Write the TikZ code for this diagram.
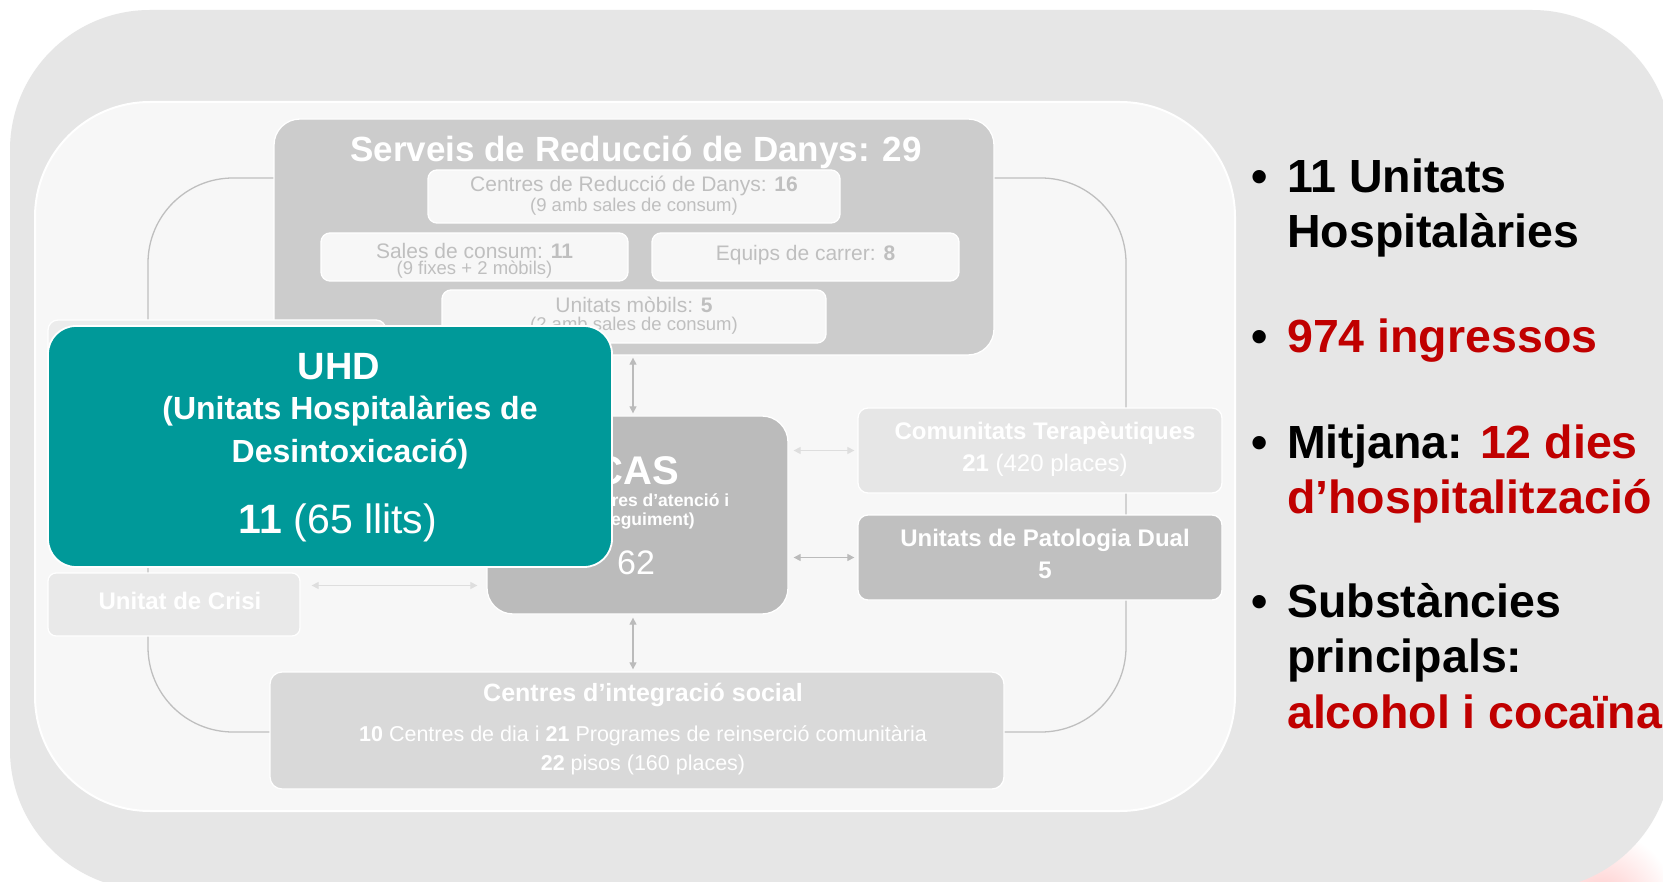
\documentclass[tikz,border=0pt]{standalone}
\usepackage{fontspec}
\setmainfont{Liberation Sans}
\usetikzlibrary{arrows.meta,calc}
\definecolor{outerbg}{HTML}{E6E6E6}
\definecolor{innerbg}{HTML}{F7F7F7}
\definecolor{srdfill}{HTML}{CCCCCC}
\definecolor{smallfill}{HTML}{F7F7F7}
\definecolor{smalltext}{HTML}{BFBFBF}
\definecolor{uhdfill}{HTML}{009999}
\definecolor{casfill}{HTML}{BBBBBB}
\definecolor{ctfill}{HTML}{E6E6E6}
\definecolor{updfill}{HTML}{C0C0C0}
\definecolor{crisifill}{HTML}{E9E9E9}
\definecolor{cisfill}{HTML}{D9D9D9}
\definecolor{hiddenfill}{HTML}{ECECEC}
\definecolor{loopcol}{HTML}{BFBFBF}
\definecolor{arrdark}{HTML}{BBBBBB}
\definecolor{arrlight}{HTML}{DEDEDE}
\definecolor{redtxt}{HTML}{C00000}
\newcommand{\fs}[1]{\fontsize{#1}{#1}\selectfont}
\begin{document}
\begin{tikzpicture}[x=1pt,y=-1pt,
  box/.style={draw=white, line width=1.3pt, inner sep=0pt},
  bigbox/.style={box, rounded corners=26pt},
  smallbox/.style={box, rounded corners=9pt, fill=smallfill},
  lbl/.style={inner sep=0pt, text=white},
  slbl/.style={inner sep=0pt, text=smalltext},
  arr/.style={line width=1.2pt, {Triangle[length=7pt,width=7pt]}-{Triangle[length=7pt,width=7pt]}},
  bul/.style={inner sep=0pt, anchor=base west, font=\fs{46.5}\bfseries}
]
\useasboundingbox (0,0) rectangle (1663,882);
\fill[white] (0,0) rectangle (1663,882);
\shade[inner color=red!22, outer color=white] (1600,905) circle (75);
% outer and inner panels
\fill[outerbg, rounded corners=140pt] (10,10) rectangle (1672,890);
\filldraw[fill=innerbg, draw=white, line width=2pt, rounded corners=115pt] (35,102) rectangle (1235,811);
% loop line
\draw[loopcol, line width=1.3pt, rounded corners=85pt] (148,178) rectangle (1126,732);

% Serveis de Reduccio de Danys
\node[bigbox, fill=srdfill, minimum width=720pt, minimum height=236pt] (srd) at (634,237) {};
\node[lbl, font=\fs{35}\bfseries] (srdt) at (636,152) {Serveis de Reducció de Danys: 29};
\node[smallbox, minimum width=412pt, minimum height=53pt] (crd) at (634,196.5) {};
\node[slbl, font=\fs{21}] (crd1) at (634,185.5) {Centres de Reducció de Danys: \textbf{16}};
\node[slbl, font=\fs{18.5}] (crd2) at (634,206.5) {(9 amb sales de consum)};
\node[smallbox, minimum width=307pt, minimum height=48pt] (sal) at (474.5,257) {};
\node[slbl, font=\fs{21}] (sal1) at (474.5,251) {Sales de consum: \textbf{11}};
\node[slbl, font=\fs{18.5}] (sal2) at (474.5,269.5) {(9 fixes + 2 mòbils)};
\node[smallbox, minimum width=307pt, minimum height=48pt] (eqc) at (805.5,257) {};
\node[slbl, font=\fs{21}] (eqc1) at (805.5,255.5) {Equips de carrer: \textbf{8}};
\node[smallbox, minimum width=384pt, minimum height=53pt] (mob) at (634,316.5) {};
\node[slbl, font=\fs{21}] (mob1) at (634,305) {Unitats mòbils: \textbf{5}};
\node[slbl, font=\fs{18.5}] (mob2) at (634,325.5) {(2 amb sales de consum)};

% CAS
\node[bigbox, fill=casfill, minimum width=301pt, minimum height=198pt] (cas) at (637.5,515) {};
\node[lbl, font=\fs{40}\bfseries] (cast) at (637,471) {CAS};
\node[lbl, font=\fs{17.5}\bfseries] (cas1) at (648,502) {(Centres d’atenció i};
\node[lbl, font=\fs{17.5}\bfseries] (cas2) at (648,521.5) {seguiment)};
\node[lbl, font=\fs{34}] (cas3) at (636,563) {62};

% right boxes
\node[box, rounded corners=10pt, fill=ctfill, minimum width=364pt, minimum height=85pt] (ct) at (1040,450.5) {};
\node[lbl, font=\fs{24}\bfseries] (ct1) at (1045,433.5) {Comunitats Terapèutiques};
\node[lbl, font=\fs{24}] (ct2) at (1045,465) {\textbf{21} (420 places)};
\node[box, rounded corners=10pt, fill=updfill, minimum width=364pt, minimum height=85pt] (upd) at (1040,557.5) {};
\node[lbl, font=\fs{24}\bfseries] (upd1) at (1045,540) {Unitats de Patologia Dual};
\node[lbl, font=\fs{24}\bfseries] (upd2) at (1045,570.5) {5};

% Unitat de Crisi
\node[box, rounded corners=8pt, fill=crisifill, minimum width=252pt, minimum height=63pt] (crisi) at (174,604.5) {};
\node[lbl, font=\fs{24}\bfseries] (crisit) at (180,601) {Unitat de Crisi};

% Centres d'integracio social
\node[box, rounded corners=12pt, fill=cisfill, minimum width=734pt, minimum height=117pt] (cis) at (637,730.5) {};
\node[lbl, font=\fs{25}\bfseries] (cis1) at (643,695) {Centres d’integració social};
\node[lbl, font=\fs{21.5}] (cis2) at (643,736) {\textbf{10} Centres de dia i \textbf{21} Programes de reinserció comunitària};
\node[lbl, font=\fs{21.5}] (cis3) at (643,764.5) {\textbf{22} pisos (160 places)};

% connectors
\coordinate (vx) at (633,0);
\coordinate (hy) at (0,585.5);
\draw[arr, draw=arrdark, fill=arrdark, shorten <=2pt, shorten >=2pt] (srd.south -| vx) -- (cas.north -| vx);
\draw[arr, draw=arrdark, fill=arrdark, shorten <=3pt, shorten >=2pt] (cas.south -| vx) -- (cis.north -| vx);
\draw[arr, draw=arrlight, fill=arrlight, shorten <=11pt, shorten >=9pt] (crisi.east |- hy) -- (cas.west |- hy);
\draw[arr, draw=arrlight, fill=arrlight, shorten <=5pt, shorten >=3pt] (cas.east |- ct.west) -- (ct.west);
\draw[arr, draw=arrdark, fill=arrdark, shorten <=5pt, shorten >=3pt] (cas.east |- upd.west) -- (upd.west);

% hidden box and UHD
\node[box, rounded corners=10pt, fill=hiddenfill, minimum width=338pt, minimum height=100pt] (hid) at (217,370) {};
\node[box, rounded corners=28pt, fill=uhdfill, line width=1.8pt, minimum width=564pt, minimum height=241pt] (uhd) at (330,446.5) {};
\node[lbl, font=\fs{38}\bfseries] (uhd1) at (339,367) {UHD};
\node[lbl, font=\fs{32}\bfseries] (uhd2) at (350,411.5) {(Unitats Hospitalàries de};
\node[lbl, font=\fs{32}\bfseries] (uhd3) at (350,454) {Desintoxicació)};
\node[lbl, font=\fs{41}] (uhd4) at (338,522.5) {\textbf{11} (65 llits)};

% right bullets
\node[bul] (b1) at (1251,193) {•};
\node[bul] (t1a) at (1287,193) {11 Unitats};
\node[bul] (t1b) at (1287,248) {Hospitalàries};
\node[bul] (b2) at (1251,353) {•};
\node[bul, text=redtxt] (t2) at (1287,353) {974 ingressos};
\node[bul] (b3) at (1251,458) {•};
\node[bul] (t3a) at (1287,458) {Mitjana: \textcolor{redtxt}{12 dies}};
\node[bul, text=redtxt] (t3b) at (1287,513) {d’hospitalització};
\node[bul] (b4) at (1251,617) {•};
\node[bul] (t4a) at (1287,617) {Substàncies};
\node[bul] (t4b) at (1287,672) {principals:};
\node[bul, text=redtxt] (t4c) at (1287,728.6) {alcohol i cocaïna};
\end{tikzpicture}
\end{document}
